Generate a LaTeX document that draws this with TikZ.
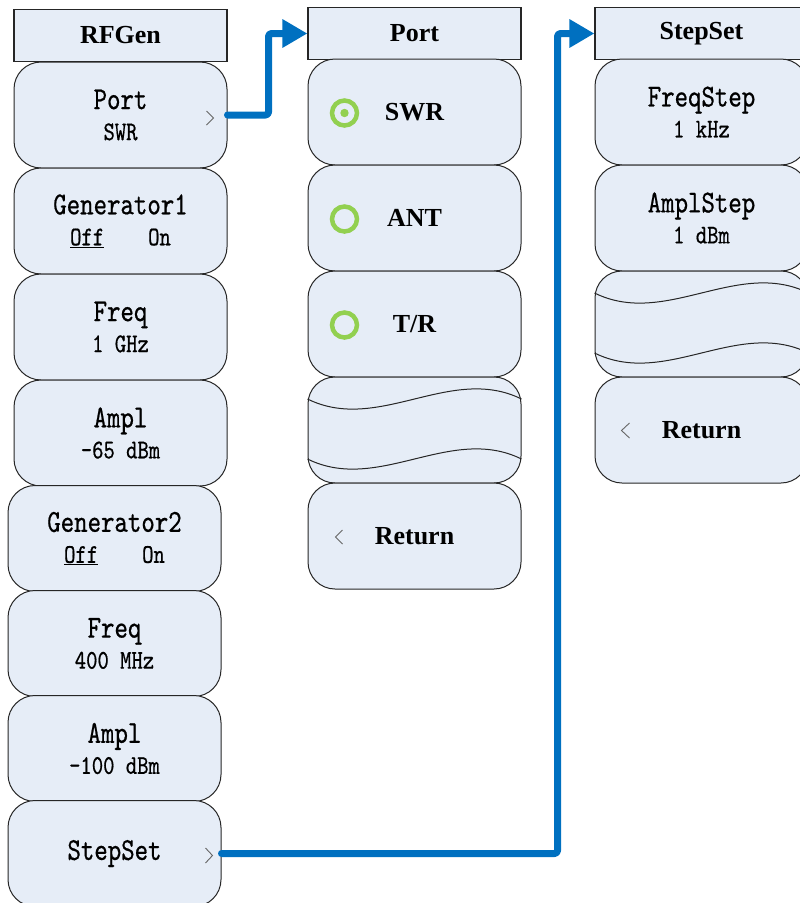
\documentclass[tikz,border=0pt]{standalone}
\usepackage{fontspec}
\setmainfont{Liberation Serif}
\setmonofont{lmmono10-regular.otf}[FakeStretch=0.8, FakeBold=0.6]
\usetikzlibrary{arrows.meta, calc}
\definecolor{keyfill}{HTML}{E6EDF7}
\definecolor{linkblue}{HTML}{0070C0}
\definecolor{radiogreen}{HTML}{92D050}
\tikzset{
  menu title/.style={
    draw=black!85,
    line width=1.2pt,
    fill=keyfill,
    minimum width=213pt,
    minimum height=52pt,
    inner sep=0pt,
    font=\fontsize{26}{30}\selectfont\bfseries
  },
  soft key/.style={
    draw=black!85,
    line width=1pt,
    fill=keyfill,
    rounded corners=27pt,
    minimum width=213pt,
    minimum height=106pt,
    inner sep=0pt,
    align=center,
    font=\fontsize{32}{31}\selectfont\ttfamily
  },
  bold key/.style={
    soft key,
    font=\fontsize{26}{30}\selectfont\bfseries
  },
  link arrow/.style={
    -{Triangle[length=25pt, width=27pt]},
    line width=7pt,
    color=linkblue,
    line join=round,
    line cap=round,
    rounded corners=3pt
  },
  radio ring/.style={
    draw=radiogreen,
    line width=4.5pt
  },
  radio dot/.style={
    fill=radiogreen
  },
  chevron/.style={
    draw=black!60,
    line width=0.9pt
  },
  wave line/.style={
    draw=black!85,
    line width=1pt
  }
}
\newcommand{\subline}[1]{{\fontsize{27}{31}\selectfont #1}}

\begin{document}
\begin{tikzpicture}[x=1pt, y=-1pt]
    \useasboundingbox (0,0) rectangle (800,903);
    \clip (0,0) rectangle (800,903);

    % 左列: RFGen
    \node[menu title] (rfgen) at (120.5,35.5) {RFGen};
    \node[soft key] (kport) at (120.5,115) {Port\\\subline{SWR}};
    \node[soft key] (kgen1) at (120.5,221) {Generator1\\\subline{\underline{Off}\hspace{44pt}On}};
    \node[soft key] (kfreq1) at (120.5,327) {Freq\\\subline{1 GHz}};
    \node[soft key] (kampl1) at (120.5,433) {Ampl\\\subline{-65 dBm}};
    \node[soft key] (kgen2) at (114.5,538.5) {Generator2\\\subline{\underline{Off}\hspace{44pt}On}};
    \node[soft key] (kfreq2) at (114.5,643.5) {Freq\\\subline{400 MHz}};
    \node[soft key] (kampl2) at (114.5,748.5) {Ampl\\\subline{-100 dBm}};
    \node[soft key] (kstep) at (114.5,853.5) {StepSet};
    \draw[chevron] ($(kport.east)+(-21,-4)$) -- ++(7,7) -- ++(-7,7);
    \draw[chevron] ($(kstep.east)+(-16,-5.5)$) -- ++(7,7.5) -- ++(-7,7.5);

    % 中列: Port
    \node[menu title] (ptitle) at (414.5,33.5) {Port};
    \node[bold key] (pswr) at (414.5,112) {SWR};
    \node[bold key] (pant) at (414.5,218) {ANT};
    \node[bold key] (ptr) at (414.5,324) {T/R};
    \node[soft key] (pblank) at (414.5,430) {};
    \node[bold key] (pret) at (414.5,536) {Return};
    \foreach \k in {pswr, pant, ptr} {
      \draw[radio ring] ($(\k.west)+(37,1)$) circle[radius=12.5pt];
    }
    \fill[radio dot] ($(pswr.west)+(37,1)$) circle[radius=4.2pt];
    \draw[chevron] ($(pret.west)+(35,-6)$) -- ++(-7,7) -- ++(7,7);

    % 右列: StepSet
    \node[menu title] (stitle) at (701.5,33.5) {StepSet};
    \node[soft key] (sfreq) at (701.5,112) {FreqStep\\\subline{1 kHz}};
    \node[soft key] (sampl) at (701.5,218) {AmplStep\\\subline{1 dBm}};
    \node[soft key] (sblank) at (701.5,324) {};
    \node[bold key] (sret) at (701.5,430) {Return};
    \draw[chevron] ($(sret.west)+(35,-7)$) -- ++(-8,7.5) -- ++(8,7.5);

    % 空白键上的波浪线
    \foreach \k in {pblank, sblank} {
      \foreach \dy in {-31, 29} {
        \draw[wave line] ($(\k.west)+(0,\dy)$) .. controls +(71,35) and +(-71,-35) .. ($(\k.east)+(0,\dy)$);
      }
    }

    % 跳转箭头
    \draw[link arrow] (kport.east) -- ++(41,0) |- (ptitle.west);
    \draw[link arrow] (kstep.east) -- ++(336,0) |- (stitle.west);

\end{tikzpicture}
\end{document}
